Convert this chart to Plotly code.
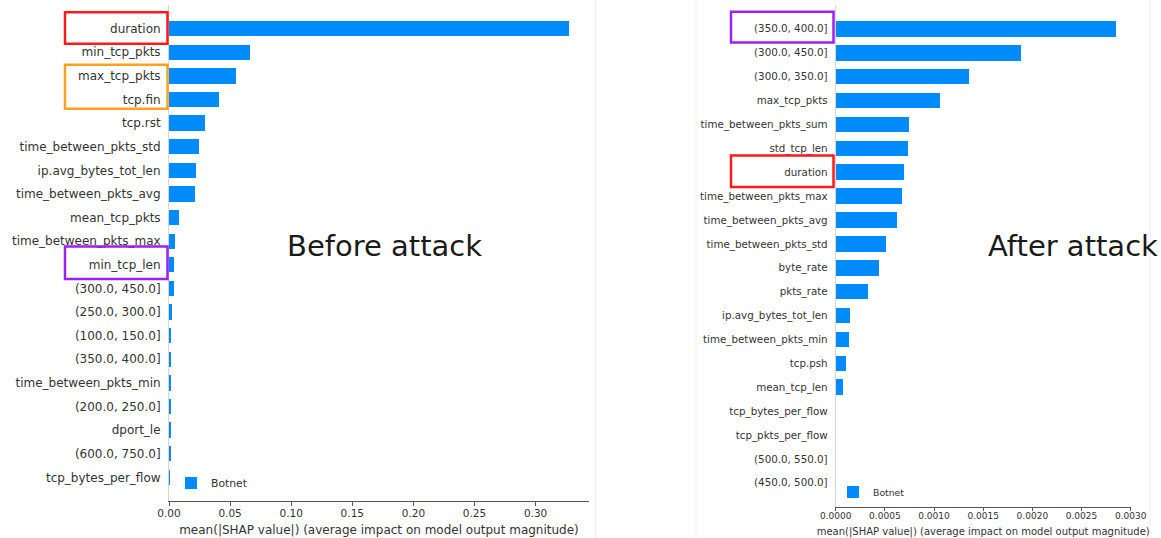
import plotly.graph_objects as go

W, H = 1161, 538

# ---------------- data ----------------
before_features = [
    "duration", "min_tcp_pkts", "max_tcp_pkts", "tcp.fin", "tcp.rst",
    "time_between_pkts_std", "ip.avg_bytes_tot_len", "time_between_pkts_avg",
    "mean_tcp_pkts", "time_between_pkts_max", "min_tcp_len",
    "(300.0, 450.0]", "(250.0, 300.0]", "(100.0, 150.0]", "(350.0, 400.0]",
    "time_between_pkts_min", "(200.0, 250.0]", "dport_le", "(600.0, 750.0]",
    "tcp_bytes_per_flow",
]
before_values = [
    0.327, 0.0663, 0.0546, 0.0412, 0.0292,
    0.0248, 0.0221, 0.0215,
    0.0084, 0.0045, 0.0043,
    0.0038, 0.0027, 0.0017, 0.0016,
    0.0015, 0.0014, 0.0010, 0.0009,
    0.0008,
]

after_features = [
    "(350.0, 400.0]", "(300.0, 450.0]", "(300.0, 350.0]", "max_tcp_pkts",
    "time_between_pkts_sum", "std_tcp_len", "duration", "time_between_pkts_max",
    "time_between_pkts_avg", "time_between_pkts_std", "byte_rate", "pkts_rate",
    "ip.avg_bytes_tot_len", "time_between_pkts_min", "tcp.psh", "mean_tcp_len",
    "tcp_bytes_per_flow", "tcp_pkts_per_flow", "(500.0, 550.0]", "(450.0, 500.0]",
]
after_values = [
    0.00285, 0.00188, 0.00135, 0.00106,
    0.00074, 0.00073, 0.00069, 0.00067,
    0.00062, 0.00051, 0.00044, 0.00033,
    0.00014, 0.00013, 0.000105, 0.00007,
    0.0, 0.0, 0.0, 0.0,
]

series_name = "Botnet"
left_xticks = [0.00, 0.05, 0.10, 0.15, 0.20, 0.25, 0.30]
right_xticks = [0.0, 0.0005, 0.0010, 0.0015, 0.0020, 0.0025, 0.0030]
x_title = "mean(|SHAP value|) (average impact on model output magnitude)"

# ---------------- style ----------------
BAR = "#008bfb"
TXT = "#333333"
FONT = "DejaVu Sans"


def px_x(p):
    return p / W


def px_y(p):
    return 1 - p / H


fig = go.Figure()

fig.add_trace(go.Bar(
    x=before_values, y=before_features, orientation="h",
    marker=dict(color=BAR, line=dict(width=0)), width=0.65,
    name=series_name, xaxis="x", yaxis="y", legend="legend", showlegend=True,
))
fig.add_trace(go.Bar(
    x=after_values, y=after_features, orientation="h",
    marker=dict(color=BAR, line=dict(width=0)), width=0.65,
    name=series_name, xaxis="x2", yaxis="y2", legend="legend2", showlegend=True,
))

n = len(before_features)

fig.update_layout(
    width=W, height=H,
    margin=dict(l=0, r=0, t=0, b=0),
    paper_bgcolor="white", plot_bgcolor="white",
    font=dict(family=FONT, color=TXT),
    bargap=0,
    showlegend=True,
    xaxis=dict(
        domain=[px_x(169), px_x(589)], anchor="y",
        range=[0, 0.3437], tickvals=left_xticks, tickformat=".2f",
        showgrid=False, zeroline=False,
        showline=True, linecolor="#555555", linewidth=1,
        ticks="outside", ticklen=4, tickcolor="#555555",
        ticklabelstandoff=-2,
        tickfont=dict(size=10.5, color=TXT, family=FONT),
        title=dict(text=x_title, font=dict(size=12, color=TXT, family=FONT), standoff=8),
        automargin=False,
    ),
    yaxis=dict(
        domain=[px_y(501), px_y(5)], anchor="x",
        type="category", categoryorder="array", categoryarray=before_features,
        range=[n, -1],
        showgrid=False, zeroline=False,
        showline=True, linecolor="#d6d6d6", linewidth=1,
        ticks="", ticklabelstandoff=5,
        tickfont=dict(size=12, color=TXT, family=FONT),
        automargin=False,
    ),
    xaxis2=dict(
        domain=[px_x(835.7), px_x(1130.7)], anchor="y2",
        range=[0, 0.0030], tickvals=right_xticks, tickformat=".4f",
        showgrid=False, zeroline=False,
        showline=True, linecolor="#555555", linewidth=1,
        ticks="outside", ticklen=3, tickcolor="#555555",
        ticklabelstandoff=-3,
        tickfont=dict(size=9, color=TXT, family=FONT),
        title=dict(text=x_title, font=dict(size=10, color=TXT, family=FONT), standoff=9),
        automargin=False,
    ),
    yaxis2=dict(
        domain=[px_y(506.7), px_y(5)], anchor="x2",
        type="category", categoryorder="array", categoryarray=after_features,
        range=[n, -1],
        showgrid=False, zeroline=False,
        showline=True, linecolor="#d6d6d6", linewidth=1,
        ticks="", ticklabelstandoff=5,
        tickfont=dict(size=10.3, color=TXT, family=FONT),
        automargin=False,
    ),
    legend=dict(
        x=px_x(171), y=px_y(483), xanchor="left", yanchor="middle",
        bgcolor="rgba(0,0,0,0)", font=dict(size=10.8, color=TXT, family=FONT),
    ),
    legend2=dict(
        x=px_x(833), y=px_y(492), xanchor="left", yanchor="middle",
        bgcolor="rgba(0,0,0,0)", font=dict(size=9.3, color=TXT, family=FONT),
    ),
)

# faint panel edge lines
for xp in [595.5, 696, 1150]:
    fig.add_shape(type="line", xref="paper", yref="paper",
                  x0=px_x(xp), x1=px_x(xp), y0=0, y1=1,
                  line=dict(color="#efefef", width=1), layer="below")

# highlight boxes around feature labels (in row units)
def box(xl, xr, yref, r0, r1, color):
    fig.add_shape(type="rect", xref="paper", yref=yref,
                  x0=px_x(xl), x1=px_x(xr), y0=r0, y1=r1,
                  line=dict(color=color, width=2.5), fillcolor="rgba(0,0,0,0)")

RED, ORANGE, PURPLE = "#ff1a1a", "#ffa020", "#a020f0"
box(65, 167.5, "y", -0.69, 0.64, RED)
box(65, 167.5, "y", 1.53, 3.39, ORANGE)
box(65, 167.5, "y", 9.23, 10.6, PURPLE)
box(731, 833.5, "y2", -0.72, 0.57, PURPLE)
box(731, 833.5, "y2", 5.3, 6.62, RED)

fig.add_annotation(text="Before attack", xref="paper", yref="paper",
                   x=px_x(384), y=px_y(246), showarrow=False,
                   xanchor="center", yanchor="middle",
                   font=dict(family="DejaVu Sans", size=29, color="#1a1a1a"))
fig.add_annotation(text="After attack", xref="paper", yref="paper",
                   x=px_x(1073), y=px_y(246), showarrow=False,
                   xanchor="center", yanchor="middle",
                   font=dict(family="DejaVu Sans", size=29, color="#1a1a1a"))

fig.write_html("out.html")
